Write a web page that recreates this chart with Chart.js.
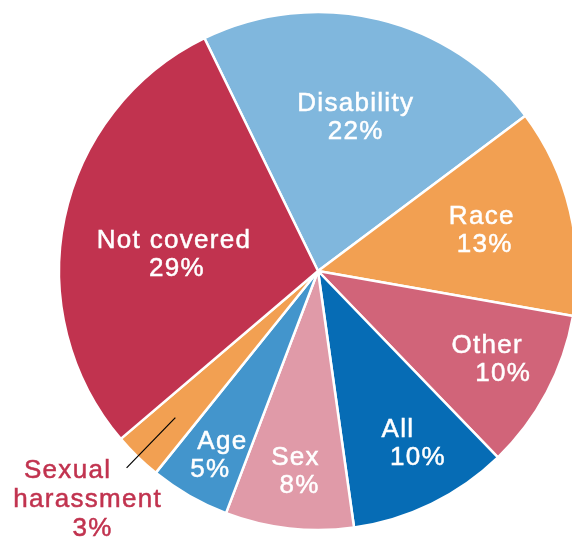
<!DOCTYPE html>
<html>
<head>
<meta charset="utf-8">
<script src="https://cdn.jsdelivr.net/npm/chart.js@4"></script>
<style>
  html, body { margin: 0; padding: 0; overflow: hidden; background: #fff; }
  #wrap { width: 636px; height: 538px; }
</style>
</head>
<body>
<div id="wrap"><canvas id="pieChart" width="636" height="538"></canvas></div>
<script>
// data
const categories = ['Disability', 'Race', 'Other', 'All', 'Sex', 'Age', 'Sexual harassment', 'Not covered'];
const shares = [22, 13, 10, 10, 8, 5, 3, 29];
const sliceColors = ['#80B7DD', '#F2A052', '#D16479', '#066CB5', '#E09AA8', '#4395CC', '#F2A052', '#C1334F'];

// label placement: fraction of radius along slice middle, small nudges, shift of the % line
const labelRadius = [0.62, 0.65, 0.74, 0.73, 0.78, 0.82, 0, 0.56];
const labelNudge = [[0, 0], [0, -4], [0, -4], [-3, 0], [0, -3], [10, -2], [0, 0], [-2, 11]];
const pctShift = [0, 3, 16, 20, 4, -12, 0, 3];
const outsideShift = [-20, 0, 5];

const labelFont = '26px "Liberation Sans", Arial, sans-serif';

const sliceLabels = {
  id: 'sliceLabels',
  afterDatasetsDraw(chart) {
    const ctx = chart.ctx;
    const arcs = chart.getDatasetMeta(0).data;
    ctx.save();
    ctx.font = labelFont;
    ctx.textAlign = 'center';
    ctx.textBaseline = 'alphabetic';
    ctx.letterSpacing = '1.3px';
    ctx.lineWidth = 0.5;
    const put = (txt, tx, ty) => {
      ctx.fillText(txt, tx, ty);
      ctx.strokeText(txt, tx, ty);
    };
    arcs.forEach((arc, i) => {
      const { x, y, startAngle, endAngle, outerRadius } = arc.getProps(['x', 'y', 'startAngle', 'endAngle', 'outerRadius'], true);
      const mid = (startAngle + endAngle) / 2;
      const pct = shares[i] + '%';
      if (labelRadius[i] > 0) {
        const cx = x + Math.cos(mid) * outerRadius * labelRadius[i] + labelNudge[i][0];
        const cy = y + Math.sin(mid) * outerRadius * labelRadius[i] + labelNudge[i][1];
        ctx.fillStyle = '#ffffff';
        ctx.strokeStyle = '#ffffff';
        put(categories[i], cx, cy - 4);
        put(pct, cx + pctShift[i], cy + 24);
      } else {
        // small slice: leader line and outside label
        const x1 = x + Math.cos(mid) * outerRadius * 0.79;
        const y1 = y + Math.sin(mid) * outerRadius * 0.79;
        const x2 = x + Math.cos(mid) * outerRadius * 1.06;
        const y2 = y + Math.sin(mid) * outerRadius * 1.06;
        ctx.strokeStyle = '#000000';
        ctx.lineWidth = 1.2;
        ctx.beginPath();
        ctx.moveTo(x1, y1);
        ctx.lineTo(x2, y2);
        ctx.stroke();
        ctx.lineWidth = 0.5;
        ctx.fillStyle = '#C1334F';
        ctx.strokeStyle = '#C1334F';
        const words = categories[i].split(' ');
        const tx = x2 - 39;
        put(words[0], tx + outsideShift[0], y2 + 10);
        put(words[1], tx + outsideShift[1], y2 + 39);
        put(pct, tx + outsideShift[2], y2 + 68);
      }
    });
    ctx.restore();
  }
};

new Chart(document.getElementById('pieChart'), {
  type: 'pie',
  data: {
    labels: categories,
    datasets: [{
      data: shares,
      backgroundColor: sliceColors,
      borderColor: '#ffffff',
      borderWidth: 2.5
    }]
  },
  options: {
    responsive: false,
    animation: false,
    devicePixelRatio: 1,
    rotation: -26,
    radius: 259,
    layout: { padding: { top: 12, bottom: 8 } },
    plugins: {
      legend: { display: false },
      tooltip: { enabled: false }
    }
  },
  plugins: [sliceLabels]
});
</script>
</body>
</html>
